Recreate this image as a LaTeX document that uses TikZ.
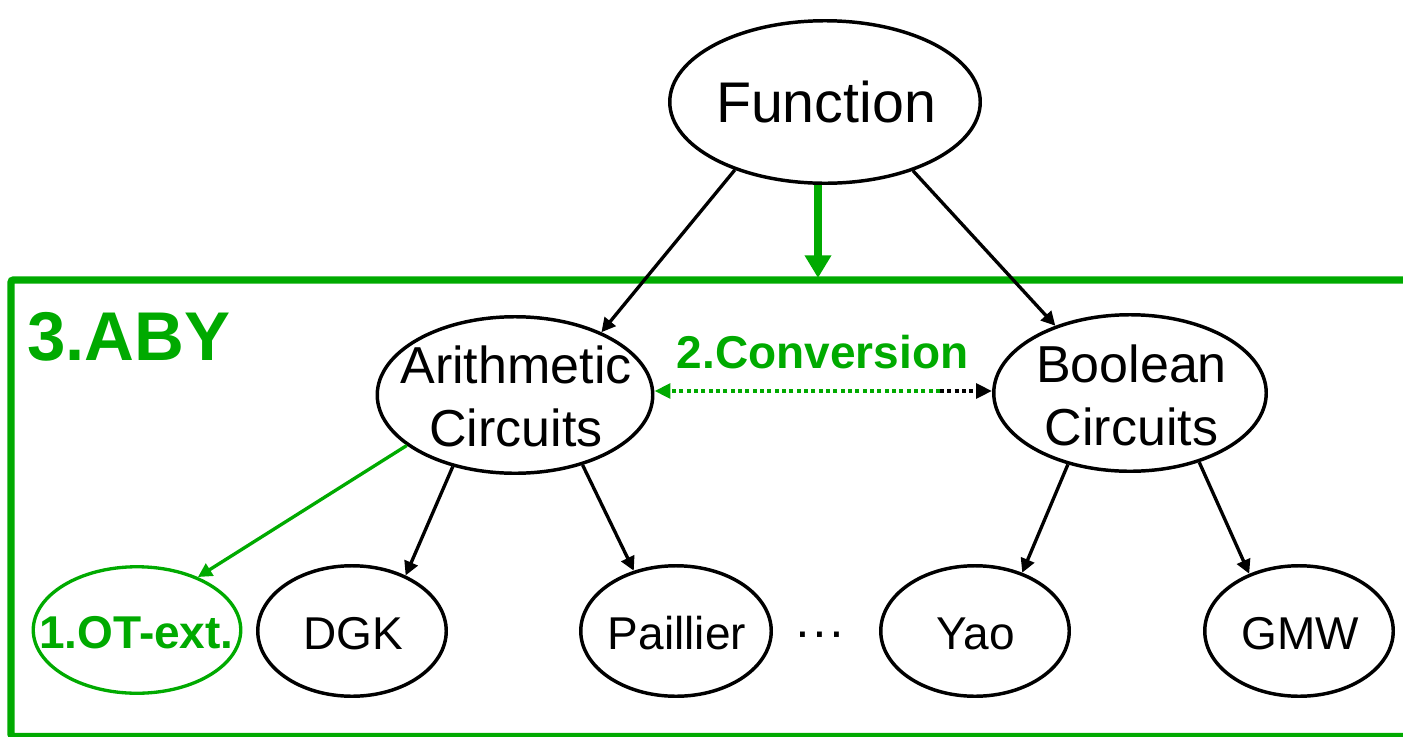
\documentclass[tikz,border=0pt]{standalone}
\usepackage{fontspec}
\setmainfont{Liberation Sans}
\usetikzlibrary{shapes.geometric,arrows.meta}
\definecolor{abygreen}{RGB}{0,170,0}
\begin{document}
% coordinates are in pixels (1px = 0.75pt), y grows downwards
\begin{tikzpicture}[x=0.75pt,y=-0.75pt,
  oval/.style={ellipse, draw, line width=2.6pt, inner sep=0pt},
  greenoval/.style={oval, draw=abygreen, line width=2.5pt},
  txt/.style={inner sep=0pt, outer sep=0pt},
  bigtxt/.style={txt, font=\fontsize{43}{50}\selectfont},
  midtxt/.style={txt, align=center, font=\fontsize{39}{47}\selectfont},
  smalltxt/.style={txt, font=\fontsize{34.5}{40}\selectfont},
  greentxt/.style={txt, text=abygreen, font=\bfseries\fontsize{34.5}{40}\selectfont},
  edge/.style={line width=2.5pt, -{Triangle[length=10.5pt,width=10.5pt]}},
  greenedge/.style={edge, draw=abygreen, -{Triangle[length=10.5pt,width=10.5pt,fill=abygreen]}},
  mainflow/.style={draw=abygreen, line width=6pt, -{Triangle[length=17pt,width=19pt,fill=abygreen]}},
  conv/.style={line width=3pt, dash pattern=on 3pt off 2.5pt, -{Triangle[length=12pt,width=11pt]}},
]
\useasboundingbox (0,0) rectangle (1403,736);
\clip (0,0) rectangle (1403,736);

% framework box
\draw[abygreen, line width=5.6pt, rounded corners=2pt] (11,280) rectangle (1430,736.5);
\node[txt, anchor=base west, text=abygreen, font=\bfseries\fontsize{51.75}{60}\selectfont] (abylabel) at (27,360) {3.ABY};

% ellipses
\node[oval, minimum width={310.5*0.75pt}, minimum height={162.5*0.75pt}] (fn) at (825,102) {};
\node[oval, minimum width={275.5*0.75pt}, minimum height={156.5*0.75pt}] (ar) at (515,395) {};
\node[oval, minimum width={272.5*0.75pt}, minimum height={156.5*0.75pt}] (bo) at (1130,393) {};
\node[greenoval, minimum width={207.5*0.75pt}, minimum height={126.5*0.75pt}] (ot) at (137,630) {};
\node[oval, minimum width={188.5*0.75pt}, minimum height={130.5*0.75pt}] (dgk) at (352,631) {};
\node[oval, minimum width={190.5*0.75pt}, minimum height={130.5*0.75pt}] (pai) at (676,631) {};
\node[oval, minimum width={188.5*0.75pt}, minimum height={130.5*0.75pt}] (yao) at (975,631) {};
\node[oval, minimum width={188.5*0.75pt}, minimum height={130.5*0.75pt}] (gmw) at (1299,631) {};

% labels
\node[bigtxt, anchor=base] (fnt) at (826,122) {Function};
\node[midtxt, anchor=north] (art) at (516,346) {Arithmetic\\Circuits};
\node[midtxt, anchor=north] (bot) at (1131.5,345) {Boolean\\Circuits};
\node[greentxt, anchor=base] (ott) at (136.5,648) {1.OT-ext.};
\node[smalltxt, anchor=base] (dgkt) at (353,649) {DGK};
\node[smalltxt, anchor=base] (pait) at (677,649) {Paillier};
\node[smalltxt, anchor=base] (yaot) at (975.5,649) {Yao};
\node[smalltxt, anchor=base] (gmwt) at (1300,649) {GMW};
\node[txt, anchor=base, font=\fontsize{38}{40}\selectfont] (dots) at (820,648) {···};

% connectors
\draw[edge] (fn.217) -- (ar.36);
\draw[edge] (fn.322) -- (bo.138);
\coordinate (boxtop) at (818,278);
\draw[mainflow] (fn.south -| boxtop) -- (boxtop);

\draw[edge] (ar.229) -- (dgk.46);
\draw[edge] (ar.314) -- (pai.125);
\draw[edge] (bo.229) -- (yao.51);
\draw[edge] (bo.315) -- (gmw.131);
\draw[greenedge] (ar.205) -- (ot.41);

% conversion between the two circuit types
\coordinate (convmid) at (940,391);
\draw[conv, draw=abygreen, -{Triangle[length=12pt,width=11pt,fill=abygreen]}] (convmid) -- (ar.east |- convmid);
\draw[conv] (convmid) -- (bo.west |- convmid);
\node[greentxt, anchor=base] (convt) at (822.5,368) {2.Conversion};
\end{tikzpicture}
\end{document}
